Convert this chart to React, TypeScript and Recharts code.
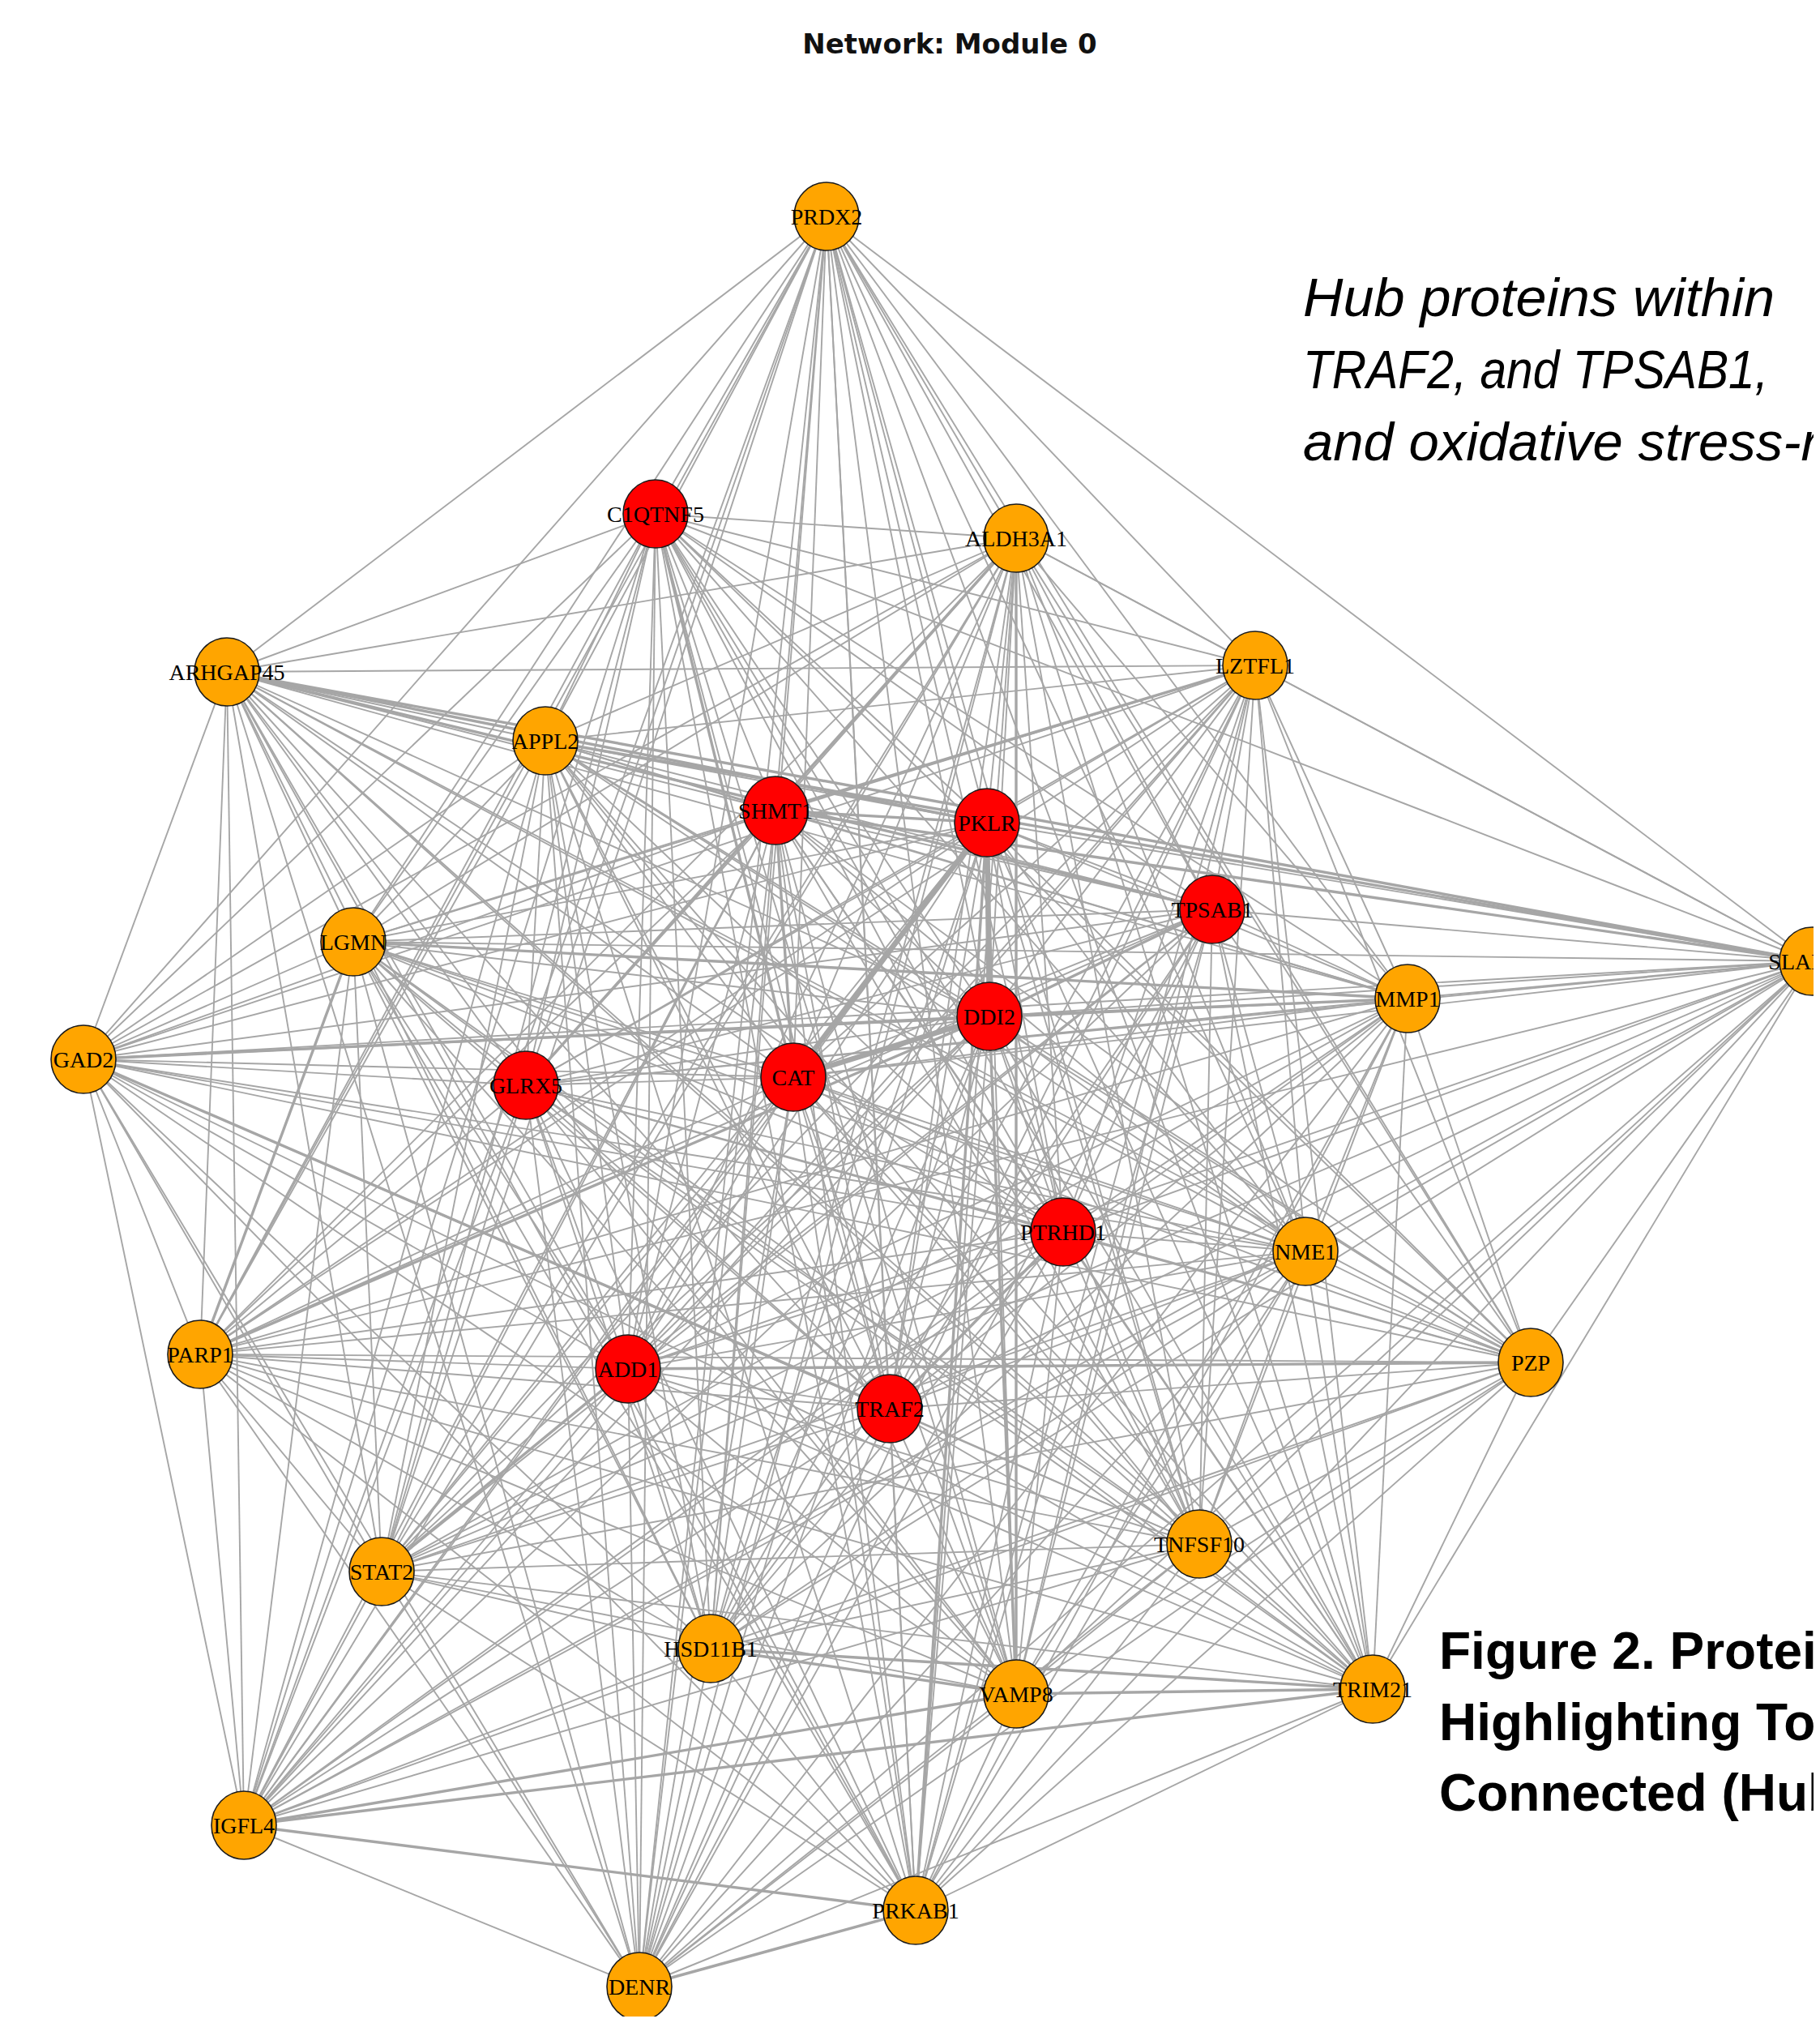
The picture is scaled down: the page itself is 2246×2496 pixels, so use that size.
import React from "react";
import { ScatterChart, Scatter, XAxis, YAxis, ReferenceLine } from "recharts";

const W = 2246;
const H = 2496;

// gene nodes and their layout position (px on the original plot)
const genes = [
  "PRDX2", "C1QTNF5", "ALDH3A1", "ARHGAP45", "LZTFL1", "APPL2", "SHMT1", "PKLR",
  "TPSAB1", "LGMN", "SLAMF8", "MMP1", "DDI2", "GAD2", "CAT", "GLRX5", "PTRHD1",
  "NME1", "PARP1", "PZP", "ADD1", "TRAF2", "TNFSF10", "STAT2", "HSD11B1", "VAMP8",
  "TRIM21", "IGFL4", "PRKAB1", "DENR",
];
const geneX = [
  1020, 809, 1254, 280, 1549, 673, 957, 1218,
  1496, 436, 2236, 1737, 1221, 103, 979, 649, 1312,
  1611, 247, 1889, 775, 1098, 1480, 471, 877, 1254,
  1694, 301, 1130, 789,
];
const geneY = [
  267, 634, 664, 829, 821, 914, 1000, 1015,
  1122, 1162, 1186, 1232, 1254, 1307, 1329, 1339, 1520,
  1544, 1671, 1681, 1689, 1738, 1905, 1939, 2034, 2090,
  2084, 2252, 2357, 2451,
];

// top connected (hub) genes, drawn red
const hubGenes = ["C1QTNF5", "SHMT1", "PKLR", "TPSAB1", "DDI2", "CAT", "GLRX5", "PTRHD1", "ADD1", "TRAF2"];

// edge list: gene -> connected genes
const adjacency: [string, string][] = [
  ["PRDX2", "C1QTNF5 ALDH3A1 ARHGAP45 LZTFL1 APPL2 SHMT1 PKLR TPSAB1 LGMN SLAMF8 MMP1 DDI2 GAD2 CAT GLRX5 PTRHD1 NME1 PARP1 PZP ADD1 TRAF2 TNFSF10 STAT2 HSD11B1 VAMP8 TRIM21 IGFL4 PRKAB1 DENR"],
  ["C1QTNF5", "ALDH3A1 ARHGAP45 LZTFL1 APPL2 SHMT1 PKLR TPSAB1 LGMN SLAMF8 MMP1 DDI2 GAD2 CAT GLRX5 PTRHD1 NME1 PARP1 PZP ADD1 TRAF2 TNFSF10 STAT2 HSD11B1 VAMP8 TRIM21 IGFL4 PRKAB1 DENR"],
  ["ALDH3A1", "ARHGAP45 LZTFL1 APPL2 SHMT1 PKLR TPSAB1 LGMN SLAMF8 MMP1 DDI2 GAD2 CAT GLRX5 PTRHD1 NME1 PARP1 PZP ADD1 TRAF2 TNFSF10 STAT2 HSD11B1 VAMP8 TRIM21 IGFL4 PRKAB1 DENR"],
  ["ARHGAP45", "LZTFL1 APPL2 SHMT1 PKLR TPSAB1 LGMN SLAMF8 MMP1 DDI2 GAD2 CAT GLRX5 PTRHD1 NME1 PARP1 PZP ADD1 TRAF2 TNFSF10 STAT2 HSD11B1 VAMP8 TRIM21 IGFL4 PRKAB1 DENR"],
  ["LZTFL1", "APPL2 SHMT1 PKLR TPSAB1 LGMN SLAMF8 MMP1 DDI2 GAD2 CAT GLRX5 PTRHD1 NME1 PARP1 PZP ADD1 TRAF2 TNFSF10 STAT2 HSD11B1 VAMP8 TRIM21 IGFL4 PRKAB1 DENR"],
  ["APPL2", "SHMT1 PKLR TPSAB1 LGMN SLAMF8 MMP1 DDI2 GAD2 CAT GLRX5 PTRHD1 NME1 PARP1 PZP ADD1 TRAF2 TNFSF10 STAT2 HSD11B1 VAMP8 TRIM21 IGFL4 PRKAB1 DENR"],
  ["SHMT1", "PKLR TPSAB1 LGMN SLAMF8 MMP1 DDI2 GAD2 CAT GLRX5 PTRHD1 NME1 PARP1 PZP ADD1 TRAF2 TNFSF10 STAT2 HSD11B1 VAMP8 TRIM21 IGFL4 PRKAB1 DENR"],
  ["PKLR", "TPSAB1 LGMN SLAMF8 MMP1 DDI2 GAD2 CAT GLRX5 PTRHD1 NME1 PARP1 PZP ADD1 TRAF2 TNFSF10 STAT2 HSD11B1 VAMP8 TRIM21 IGFL4 PRKAB1 DENR"],
  ["TPSAB1", "LGMN SLAMF8 MMP1 DDI2 GAD2 CAT GLRX5 PTRHD1 NME1 PARP1 PZP ADD1 TRAF2 TNFSF10 STAT2 HSD11B1 VAMP8 TRIM21 IGFL4 PRKAB1 DENR"],
  ["LGMN", "SLAMF8 MMP1 DDI2 GAD2 CAT GLRX5 PTRHD1 NME1 PARP1 PZP ADD1 TRAF2 TNFSF10 STAT2 HSD11B1 VAMP8 TRIM21 IGFL4 PRKAB1 DENR"],
  ["SLAMF8", "MMP1 DDI2 GAD2 CAT GLRX5 PTRHD1 NME1 PARP1 PZP ADD1 TRAF2 TNFSF10 STAT2 HSD11B1 VAMP8 TRIM21 IGFL4 PRKAB1 DENR"],
  ["MMP1", "DDI2 GAD2 CAT GLRX5 PTRHD1 NME1 PARP1 PZP ADD1 TRAF2 TNFSF10 STAT2 HSD11B1 VAMP8 TRIM21 IGFL4 PRKAB1 DENR"],
  ["DDI2", "GAD2 CAT GLRX5 PTRHD1 NME1 PARP1 PZP ADD1 TRAF2 TNFSF10 STAT2 HSD11B1 VAMP8 TRIM21 IGFL4 PRKAB1 DENR"],
  ["GAD2", "CAT GLRX5 PTRHD1 NME1 PARP1 PZP ADD1 TRAF2 TNFSF10 STAT2 HSD11B1 VAMP8 TRIM21 IGFL4 PRKAB1 DENR"],
  ["CAT", "GLRX5 PTRHD1 NME1 PARP1 PZP ADD1 TRAF2 TNFSF10 STAT2 HSD11B1 VAMP8 TRIM21 IGFL4 PRKAB1 DENR"],
  ["GLRX5", "PTRHD1 NME1 PARP1 PZP ADD1 TRAF2 TNFSF10 STAT2 HSD11B1 VAMP8 TRIM21 IGFL4 PRKAB1 DENR"],
  ["PTRHD1", "NME1 PARP1 PZP ADD1 TRAF2 TNFSF10 STAT2 HSD11B1 VAMP8 TRIM21 IGFL4 PRKAB1 DENR"],
  ["NME1", "PARP1 PZP ADD1 TRAF2 TNFSF10 STAT2 HSD11B1 VAMP8 TRIM21 IGFL4 PRKAB1 DENR"],
  ["PARP1", "PZP ADD1 TRAF2 TNFSF10 STAT2 HSD11B1 VAMP8 TRIM21 IGFL4 PRKAB1 DENR"],
  ["PZP", "ADD1 TRAF2 TNFSF10 STAT2 HSD11B1 VAMP8 TRIM21 IGFL4 PRKAB1 DENR"],
  ["ADD1", "TRAF2 TNFSF10 STAT2 HSD11B1 VAMP8 TRIM21 IGFL4 PRKAB1 DENR"],
  ["TRAF2", "TNFSF10 STAT2 HSD11B1 VAMP8 TRIM21 IGFL4 PRKAB1 DENR"],
  ["TNFSF10", "STAT2 HSD11B1 VAMP8 TRIM21 IGFL4 PRKAB1 DENR"],
  ["STAT2", "HSD11B1 VAMP8 TRIM21 IGFL4 PRKAB1 DENR"],
  ["HSD11B1", "VAMP8 TRIM21 IGFL4 PRKAB1 DENR"],
  ["VAMP8", "TRIM21 IGFL4 PRKAB1 DENR"],
  ["TRIM21", "IGFL4 PRKAB1 DENR"],
  ["IGFL4", "PRKAB1 DENR"],
  ["PRKAB1", "DENR"],
];

// heavier edges (weight class 2 = medium, 3 = strong)
const strongLinks: [string, string, number][] = [
  ["PKLR", "CAT", 3], ["PKLR", "DDI2", 3], ["CAT", "DDI2", 3],
  ["SHMT1", "CAT", 2], ["STAT2", "ADD1", 2], ["PRKAB1", "DENR", 2],
  ["HSD11B1", "TRIM21", 2], ["VAMP8", "TRIM21", 2], ["HSD11B1", "VAMP8", 2],
  ["ARHGAP45", "PKLR", 2], ["ARHGAP45", "TPSAB1", 2], ["ARHGAP45", "SLAMF8", 2],
  ["LZTFL1", "SHMT1", 2], ["ALDH3A1", "GLRX5", 2], ["ALDH3A1", "VAMP8", 2],
  ["C1QTNF5", "CAT", 2], ["GAD2", "DDI2", 2], ["GAD2", "TRAF2", 2],
  ["PARP1", "DDI2", 2], ["LGMN", "PARP1", 2], ["IGFL4", "PRKAB1", 2],
  ["IGFL4", "TRIM21", 2], ["IGFL4", "VAMP8", 2], ["MMP1", "DDI2", 2],
  ["MMP1", "LGMN", 2], ["SLAMF8", "APPL2", 2], ["SLAMF8", "SHMT1", 2],
  ["ADD1", "PZP", 2], ["TRAF2", "PTRHD1", 2], ["TPSAB1", "DDI2", 2],
  ["SHMT1", "PKLR", 2], ["VAMP8", "DDI2", 2], ["PRKAB1", "PKLR", 2],
];

const edgeWidth = [0, 1.9, 3.4, 6.5];

const key = (a: string, b: string) => [a, b].sort().join("|");
const strength = new Map(strongLinks.map(([a, b, w]) => [key(a, b), w]));
const pos = (g: string) => {
  const i = genes.indexOf(g);
  return { x: geneX[i], y: geneY[i] };
};

const links = adjacency
  .flatMap(([from, list]) =>
    list.split(" ").map((to) => ({ from, to, w: strength.get(key(from, to)) ?? 1 }))
  )
  .sort((a, b) => a.w - b.w);

const nodes = genes.map((g, i) => ({ x: geneX[i], y: geneY[i], name: g, hub: hubGenes.includes(g) }));

function GeneNode(props: any) {
  const { cx, cy, payload } = props;
  return (
    <g>
      <ellipse cx={cx} cy={cy} rx={40} ry={42} fill={payload.hub ? "#FF0000" : "#FFA500"} stroke="#1a1a1a" strokeWidth={1.6} />
      <text
        x={cx}
        y={cy}
        textAnchor="middle"
        dominantBaseline="central"
        fontFamily="'Liberation Serif', 'Times New Roman', serif"
        fontSize={28}
        fill="#000"
      >
        {payload.name}
      </text>
    </g>
  );
}

export default function App() {
  return (
    <div style={{ position: "relative", width: W, height: H, margin: -8, overflow: "hidden", background: "#fff" }}>
      <ScatterChart width={W} height={H} margin={{ top: 0, right: 0, bottom: 0, left: 0 }}>
        <XAxis type="number" dataKey="x" domain={[0, W]} hide />
        <YAxis type="number" dataKey="y" domain={[0, H]} reversed hide />
        {links.map((l) => (
          <ReferenceLine
            key={l.from + "-" + l.to}
            segment={[pos(l.from), pos(l.to)]}
            stroke="#a6a6a6"
            strokeWidth={edgeWidth[l.w]}
            ifOverflow="visible"
          />
        ))}
        <Scatter data={nodes} shape={GeneNode} isAnimationActive={false} />
      </ScatterChart>

      <svg width={W} height={H} style={{ position: "absolute", left: 0, top: 0, pointerEvents: "none" }}>
        <text x={1172} y={66} textAnchor="middle" fontFamily="'DejaVu Sans', Verdana, sans-serif" fontWeight="bold" fontSize={34} fill="#111">
          Network: Module 0
        </text>

        <g fontFamily="'Liberation Sans', Arial, sans-serif" fontStyle="italic" fontSize={67} fill="#000">
          <text x={1608} y={390} textLength={582} lengthAdjust="spacingAndGlyphs">Hub  proteins  within</text>
          <text x={1608} y={479} textLength={574} lengthAdjust="spacingAndGlyphs">TRAF2, and TPSAB1,</text>
          <text x={1608} y={568}>and oxidative stress-related</text>
        </g>

        <g fontFamily="'Liberation Sans', Arial, sans-serif" fontWeight="bold" fontSize={64} fill="#000">
          <text x={1776} y={2059}>Figure 2. Protein</text>
          <text x={1776} y={2147}>Highlighting Top</text>
          <text x={1776} y={2234}>Connected (Hub</text>
        </g>
      </svg>
    </div>
  );
}
